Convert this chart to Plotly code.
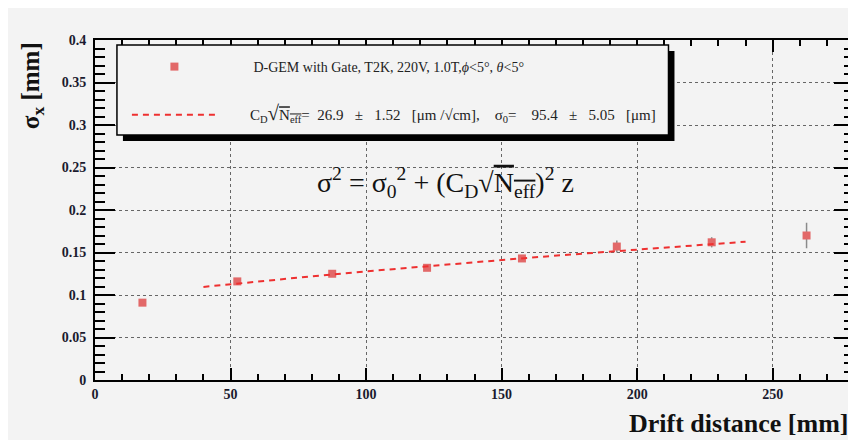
import plotly.graph_objects as go

# ---- data ----
drift_mm = [17.5, 52.5, 87.5, 122.5, 157.5, 192.5, 227.5, 262.5]
sigma_x = [0.091, 0.116, 0.125, 0.132, 0.143, 0.157, 0.162, 0.170]
sigma_err = [0.003, 0.003, 0.003, 0.003, 0.003, 0.007, 0.006, 0.015]

fit_x = [40, 60, 80, 100, 120, 140, 160, 180, 200, 220, 240]
fit_y = [0.1095, 0.1160, 0.1220, 0.1278, 0.1334, 0.1387, 0.1438, 0.1487, 0.1535, 0.1582, 0.1627]

x_ticks = [0, 50, 100, 150, 200, 250]
y_ticks = [0, 0.05, 0.1, 0.15, 0.2, 0.25, 0.3, 0.35, 0.4]
y_ticklabels = ["0", "0.05", "0.1", "0.15", "0.2", "0.25", "0.3", "0.35", "0.4"]

NB = "&nbsp;"
legend_data = NB * 9 + "D-GEM with Gate, T2K, 220V, 1.0T,<i>ϕ</i>&lt;5°, <i>θ</i>&lt;5°"
legend_fit = (NB * 8 + "<span style='font-size:15px'>C<sub>D</sub><span style='font-size:21px'>√</span>"
              "<span style='text-decoration:overline'>N<sub>eff</sub></span>"
              "=" + NB * 2 + "26.9" + NB * 3 + "±" + NB * 3 + "1.52" + NB * 3 + "[μm" + NB + "/√cm],"
              + NB * 4 + "σ<sub>0</sub>=" + NB * 4 + "95.4" + NB * 3 + "±" + NB * 3 + "5.05" + NB * 3 + "[μm]</span>")
formula = ("σ<sup>2</sup> = σ<sub>0</sub><sup>2</sup> + (C<sub>D</sub>√"
           "<span style='text-decoration:overline'>N<sub>eff</sub></span>)<sup>2</sup> z")

BG = "#f3f3f3"
SERIF = "Liberation Serif"

# screen-pixel helpers (page has an 8px body margin; plot frame spans x 95..856, y 40..380)
def px(X):
    return (X - 95) / 761.0

def py(Y):
    return (380 - Y) / 340.0

fig = go.Figure()
fig.add_trace(go.Scatter(
    x=drift_mm, y=sigma_x, mode="markers", name=legend_data,
    legendgroup="a",
    marker=dict(symbol="square", size=8, color="#e26868"),
    error_y=dict(type="data", array=sigma_err, color="#8a8a8a", thickness=1.5, width=0),
))
fig.add_trace(go.Scatter(
    x=fit_x, y=fit_y, mode="lines", name=legend_fit,
    legendgroup="b",
    line=dict(color="#ee3030", width=2, dash="6px,5px"),
))

axis_font = dict(family=SERIF, size=14, color="#1a1a2e", weight="bold")

fig.update_layout(
    width=848, height=432,
    margin=dict(l=87, r=0, t=32, b=60),
    paper_bgcolor=BG, plot_bgcolor=BG,
    showlegend=True,
    legend=dict(
        x=px(127), y=py(51), xanchor="left", yanchor="top",
        bgcolor="rgba(0,0,0,0)", borderwidth=0,
        font=dict(family=SERIF, size=14, color="#222"),
        itemwidth=85, tracegroupgap=27,
        traceorder="grouped",
    ),
    xaxis=dict(
        range=[0, 280], tickvals=x_ticks, ticktext=[str(v) for v in x_ticks],
        ticks="inside", ticklen=12, tickwidth=1.5, tickcolor="black",
        minor=dict(dtick=10, ticks="inside", ticklen=6, tickcolor="black", showgrid=False),
        showline=True, linecolor="black", linewidth=2, mirror="ticks",
        showgrid=True, gridcolor="#666666", griddash="dot", gridwidth=1,
        zeroline=False, tickfont=axis_font,
    ),
    yaxis=dict(
        range=[0, 0.4], tickvals=y_ticks, ticktext=y_ticklabels,
        ticks="inside", ticklen=20, tickwidth=1.5, tickcolor="black",
        minor=dict(dtick=0.01, ticks="inside", ticklen=10, tickcolor="black", showgrid=False),
        showline=True, linecolor="black", linewidth=2, mirror="ticks",
        showgrid=True, gridcolor="#666666", griddash="dot", gridwidth=1,
        zeroline=False, tickfont=axis_font, ticklabelstandoff=4,
    ),
)

# ROOT-style legend box with drop shadow
fig.add_shape(type="rect", xref="paper", yref="paper",
              x0=px(123), x1=px(676), y0=py(141), y1=py(51),
              fillcolor="black", line=dict(width=0), layer="above")
fig.add_shape(type="rect", xref="paper", yref="paper",
              x0=px(117), x1=px(670), y0=py(135), y1=py(45),
              fillcolor=BG, line=dict(width=1.5, color="black"), layer="above")

fig.add_annotation(text="<b>σ<sub>x</sub> [mm]</b>", textangle=-90,
                   xref="paper", yref="paper", x=px(33), y=py(86),
                   showarrow=False, font=dict(family=SERIF, size=25, color="#111"),
                   xanchor="center", yanchor="middle")
fig.add_annotation(text="<b>Drift distance [mm]</b>",
                   xref="paper", yref="paper", x=px(853), y=py(423),
                   showarrow=False, font=dict(family=SERIF, size=26, color="#111"),
                   xanchor="right", yanchor="middle")
fig.add_annotation(text=formula,
                   xref="paper", yref="paper", x=px(446), y=py(183),
                   showarrow=False, font=dict(family=SERIF, size=28, color="#111"),
                   xanchor="center", yanchor="middle")

fig.write_html("out.html")
